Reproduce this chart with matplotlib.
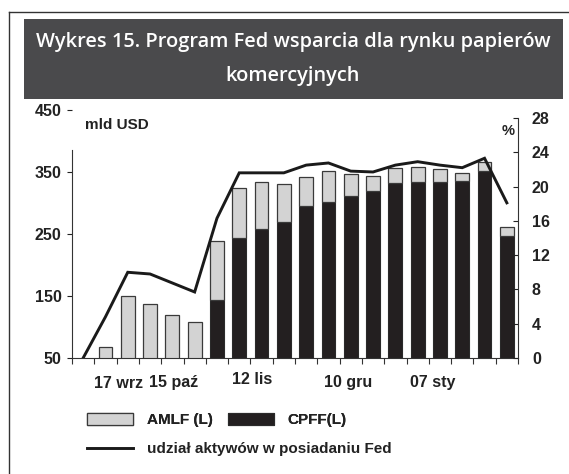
import numpy as np
import matplotlib
matplotlib.use("Agg")
import matplotlib.pyplot as plt
from matplotlib.patches import Rectangle, Patch
from matplotlib.lines import Line2D
from matplotlib.transforms import blended_transform_factory

# ---- data (weekly, slot 0 is an empty week before 17 wrz) ----
weeks = list(range(20))
cpff = [0, 0, 0, 0, 0, 0, 143, 243, 258, 270, 295, 302, 312, 319, 332, 334, 334, 335, 352, 246]
amlf = [0, 68, 150, 137, 119, 108, 96, 81, 76, 61, 47, 50, 34, 25, 24, 24, 21, 14, 14, 16]
fed_share = [0, 4.8, 10.0, 9.8, 8.75, 7.7, 16.3, 21.6, 21.6, 21.6, 22.5, 22.75, 21.8, 21.7,
             22.5, 22.9, 22.5, 22.2, 23.3, 18.1]
xlabel_pos = [1.6, 4.06, 7.56, 11.86, 15.68]
xlabel_txt = ["17 wrz", "15 paź", "12 lis", "10 gru", "07 sty"]
left_ticks = [50, 150, 250, 350, 450]
right_ticks = [0, 4, 8, 12, 16, 20, 24, 28]

W, H = 569, 474
plt.rcParams['font.family'] = ['Liberation Sans', 'DejaVu Sans']
plt.rcParams['font.weight'] = 'bold'

fig = plt.figure(figsize=(W / 100, H / 100), dpi=100)

def fx(x):
    return x / W

def fy(y):
    return 1 - y / H

# frame lines
fig.add_artist(Line2D([fx(9), fx(9)], [fy(12), fy(474)], color='#333333', lw=1.0))
fig.add_artist(Line2D([fx(9), fx(569)], [fy(12), fy(12)], color='#333333', lw=1.0))

# title box
fig.add_artist(Rectangle((fx(24), fy(99)), fx(563) - fx(24), fy(19) - fy(99),
                         transform=fig.transFigure, facecolor='#4a4a4c', edgecolor='none'))
title_font = dict(family=['Open Sans', 'DejaVu Sans'], weight='semibold', size=14.4, color='white')
fig.text(fx(293), fy(47), "Wykres 15. Program Fed wsparcia dla rynku papierów",
         ha='center', va='baseline', **title_font)
fig.text(fx(293), fy(81), "komercyjnych", ha='center', va='baseline', **title_font)

# axes
ax = fig.add_axes([fx(72), fy(358), fx(518) - fx(72), fy(110) - fy(358)])
ax.set_facecolor('none')
ax.bar(weeks, cpff, width=0.62, color='#231f20', edgecolor='#2a2a2a', lw=0.8, zorder=2)
ax.bar(weeks, amlf, bottom=cpff, width=0.62, color='#d3d3d3', edgecolor='#3a3a3a', lw=0.9, zorder=2)
ax.set_xlim(-0.5, 19.5)
ax.set_ylim(50, 450)
ax.set_yticks(left_ticks)
ax.set_xticks(np.arange(-0.5, 20, 1))
ax.set_xticklabels([])
ax.tick_params(axis='y', direction='out', length=3.6, width=0.8, pad=4, labelsize=11.5, colors='#222222')
ax.tick_params(axis='x', direction='out', length=4.3, width=0.8, colors='#333333')
for s in ['top', 'right']:
    ax.spines[s].set_visible(False)
ax.spines['left'].set_bounds(50, 385)
for s in ['left', 'bottom']:
    ax.spines[s].set_color('#333333')
    ax.spines[s].set_linewidth(0.8)

ax2 = ax.twinx()
ax2.plot(weeks, fed_share, color='#1a1a1a', lw=2.1, solid_joinstyle='miter', zorder=3)
ax2.set_ylim(0, 28.93)
ax2.set_yticks(right_ticks)
ax2.tick_params(axis='y', direction='in', length=3.6, width=0.8, pad=10, labelsize=11.5, colors='#222222')
for s in ['top', 'left', 'bottom']:
    ax2.spines[s].set_visible(False)
ax2.spines['right'].set_bounds(0, 28)
ax2.spines['right'].set_color('#333333')
ax2.spines['right'].set_linewidth(0.8)

# x labels
tr = blended_transform_factory(ax.transData, fig.transFigure)
for xp, t in zip(xlabel_pos, xlabel_txt):
    yy = 380 if t == "12 lis" else 383
    ax.text(xp, fy(yy), t, transform=tr, ha='center', va='center', fontsize=11.5, color='#222222')

fig.text(fx(85), fy(125), "mld USD", ha='left', va='center', fontsize=11, color='#222222')
fig.text(fx(508), fy(131), "%", ha='center', va='center', fontsize=10.5, color='#222222')

# legend
h_amlf = Patch(facecolor='#d3d3d3', edgecolor='#3a3a3a', lw=0.9)
h_cpff = Patch(facecolor='#231f20', edgecolor='#2a2a2a', lw=0.8)
h_line = Line2D([0], [0], color='#1a1a1a', lw=2.1)
leg1 = fig.legend([h_amlf, h_cpff], ["AMLF (L)", "CPFF(L)"], ncol=2, loc='center left',
                  bbox_to_anchor=(fx(87), fy(420)), frameon=False, fontsize=11,
                  handlelength=3.0, handleheight=0.8, handletextpad=0.9, columnspacing=1.0,
                  borderpad=0, borderaxespad=0)
leg2 = fig.legend([h_line], ["udział aktywów w posiadaniu Fed"], loc='center left',
                  bbox_to_anchor=(fx(87), fy(449)), frameon=False, fontsize=11,
                  handlelength=3.0, handletextpad=0.9, borderpad=0, borderaxespad=0)
for lg in (leg1, leg2):
    for t in lg.get_texts():
        t.set_color('#222222')
fig.add_artist(leg1)

fig.savefig("out.png", dpi=100)
